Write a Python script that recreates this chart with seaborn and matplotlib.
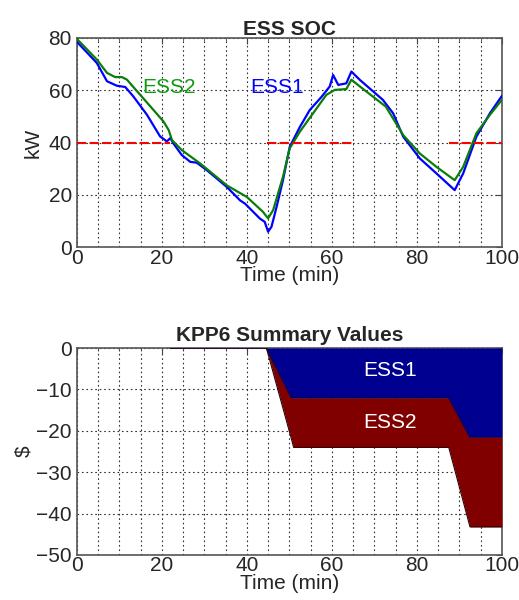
import numpy as np
import pandas as pd
import matplotlib
matplotlib.use("Agg")
import matplotlib.pyplot as plt
import seaborn as sns

# ESS state of charge traces
t_ess1 = [0, 4.7, 7.1, 9.4, 11.4, 13.3, 16.5, 19.6, 21.2, 22, 22.7, 24.7, 26.7, 28.2, 30.6,
          35.3, 38.4, 39.6, 43.1, 44.2, 45, 45.8, 47, 48.5, 50.1, 52.5, 54.8, 57.6, 59.5,
          60.3, 61.5, 63.4, 64.6, 66.6, 72, 74.4, 76.8, 80.7, 84.6, 88.9, 90.9, 94, 97.2, 100]
soc_ess1 = [78.5, 70.4, 63.4, 61.7, 61.2, 57.6, 50.6, 42.3, 40.4, 41.7, 39.7, 35.2, 32.6, 32.3, 29.4,
            23, 17.9, 16.6, 10.9, 9.7, 5.9, 7.8, 15.4, 25.6, 38.4, 46, 52.4, 57.5, 61.4,
            65.8, 62, 62.6, 67.1, 63.9, 56.3, 51.2, 42.2, 33.9, 28.2, 21.8, 28.2, 42.2, 51.2, 57.8]
t_ess2 = [0, 4.7, 7.1, 9, 10.6, 11.8, 13.3, 17.3, 20.4, 21.6, 22.4, 24.7, 29, 35.3, 40,
          43.8, 45, 46.2, 48.5, 50.1, 52.5, 55.6, 58.7, 60.7, 63.4, 64.6, 66.6, 72.7, 76.8,
          80.7, 84.6, 88.9, 90.9, 94, 97.2, 100]
soc_ess2 = [79.6, 71.7, 66.6, 65, 65, 64, 61.2, 53.8, 48, 44.8, 40.9, 37.1, 32, 23.6, 19.2,
            13.5, 11, 14.2, 26.9, 37.8, 44.2, 51.2, 58.2, 60.1, 60.4, 64, 61.4, 53.7, 42.8,
            35.8, 30.7, 25.6, 30.7, 43.5, 50.6, 56.3]

# SOC threshold segments
threshold = 40
thr_start = [0, 44.7, 87.5]
thr_end = [22, 64.7, 100]

# KPP6 cumulative values
t_kpp = [22, 44.6, 50.5, 51, 87.4, 87.5, 92.5, 100]
kpp_ess1 = [0, 0, -12, -12, -12, -12, -21.5, -21.5]
kpp_ess2 = [0, 0, -10, -12, -12, -12, -21.7, -21.7]

sns.set_style("white")
plt.rcParams['font.family'] = ['Liberation Sans', 'DejaVu Sans']

fig = plt.figure(figsize=(5.19, 6.0), dpi=100)
ax1 = fig.add_axes([0.148, 0.588, 0.819, 0.349])
ax2 = fig.add_axes([0.148, 0.075, 0.819, 0.345])


def style_axes(ax):
    ax.set_xlim(0, 100)
    ax.set_xticks(np.arange(0, 101, 20))
    ax.set_xticks(np.arange(0, 101, 5), minor=True)
    ax.grid(True, which='major', color='#333333', linestyle=(0, (1.5, 2.5)), linewidth=0.8)
    ax.grid(True, which='minor', axis='x', color='#333333', linestyle=(0, (1.5, 2.5)), linewidth=0.8)
    ax.tick_params(which='both', direction='in', top=True, right=True, labelsize=15,
                   color='#444444', length=4)
    ax.tick_params(axis='x', which='both', pad=1)
    ax.tick_params(axis='y', which='both', pad=3.5)
    ax.tick_params(which='minor', length=2)
    for s in ax.spines.values():
        s.set_color('#555555')
        s.set_linewidth(1.2)
    ax.set_xlabel('Time (min)', fontsize=15, labelpad=-1)


# top: ESS SOC
df1 = pd.DataFrame({'t': t_ess1, 'soc': soc_ess1})
df2 = pd.DataFrame({'t': t_ess2, 'soc': soc_ess2})
sns.lineplot(data=df1, x='t', y='soc', ax=ax1, color='#0000ff', linewidth=1.6, zorder=3)
sns.lineplot(data=df2, x='t', y='soc', ax=ax1, color='#0a7d0a', linewidth=1.6, zorder=4)
ax1.hlines([threshold] * len(thr_start), thr_start, thr_end, colors='#ff0000',
           linestyles=(0, (4.5, 1.5)), linewidth=1.5, zorder=5)
ax1.set_ylim(0, 80)
ax1.set_yticks(np.arange(0, 81, 20))
style_axes(ax1)
ax1.set_ylabel('kW', fontsize=15, labelpad=4)
ax1.set_title('ESS SOC', fontsize=15, fontweight='bold', pad=2)
ax1.text(21.8, 61, 'ESS2', color='#109a10', fontsize=15, ha='center', va='center')
ax1.text(47, 61, 'ESS1', color='#0000ff', fontsize=15, ha='center', va='center')

# bottom: KPP6 summary (stacked)
total = np.array(kpp_ess1) + np.array(kpp_ess2)
ax2.fill_between(t_kpp, 0, kpp_ess1, color='#000090', linewidth=0, zorder=3)
ax2.fill_between(t_kpp, kpp_ess1, total, color='#800000', linewidth=0, zorder=3)
sns.lineplot(x=t_kpp, y=kpp_ess1, ax=ax2, color='#000060', linewidth=1.0, zorder=4)
sns.lineplot(x=t_kpp, y=total, ax=ax2, color='#300000', linewidth=0.8, zorder=4)
ax2.set_ylim(-50, 0)
ax2.set_yticks(np.arange(-50, 1, 10))
style_axes(ax2)
ax2.set_ylabel('$', fontsize=15, labelpad=2)
ax2.set_title('KPP6 Summary Values', fontsize=15, fontweight='bold', pad=5)
ax2.text(73.6, -5.5, 'ESS1', color='white', fontsize=15, ha='center', va='center', zorder=6)
ax2.text(73.6, -18, 'ESS2', color='white', fontsize=15, ha='center', va='center', zorder=6)
ax2.set_yticklabels([str(v).replace('-', '\u2212') for v in np.arange(-50, 1, 10)])

fig.savefig('out.png', dpi=100)
